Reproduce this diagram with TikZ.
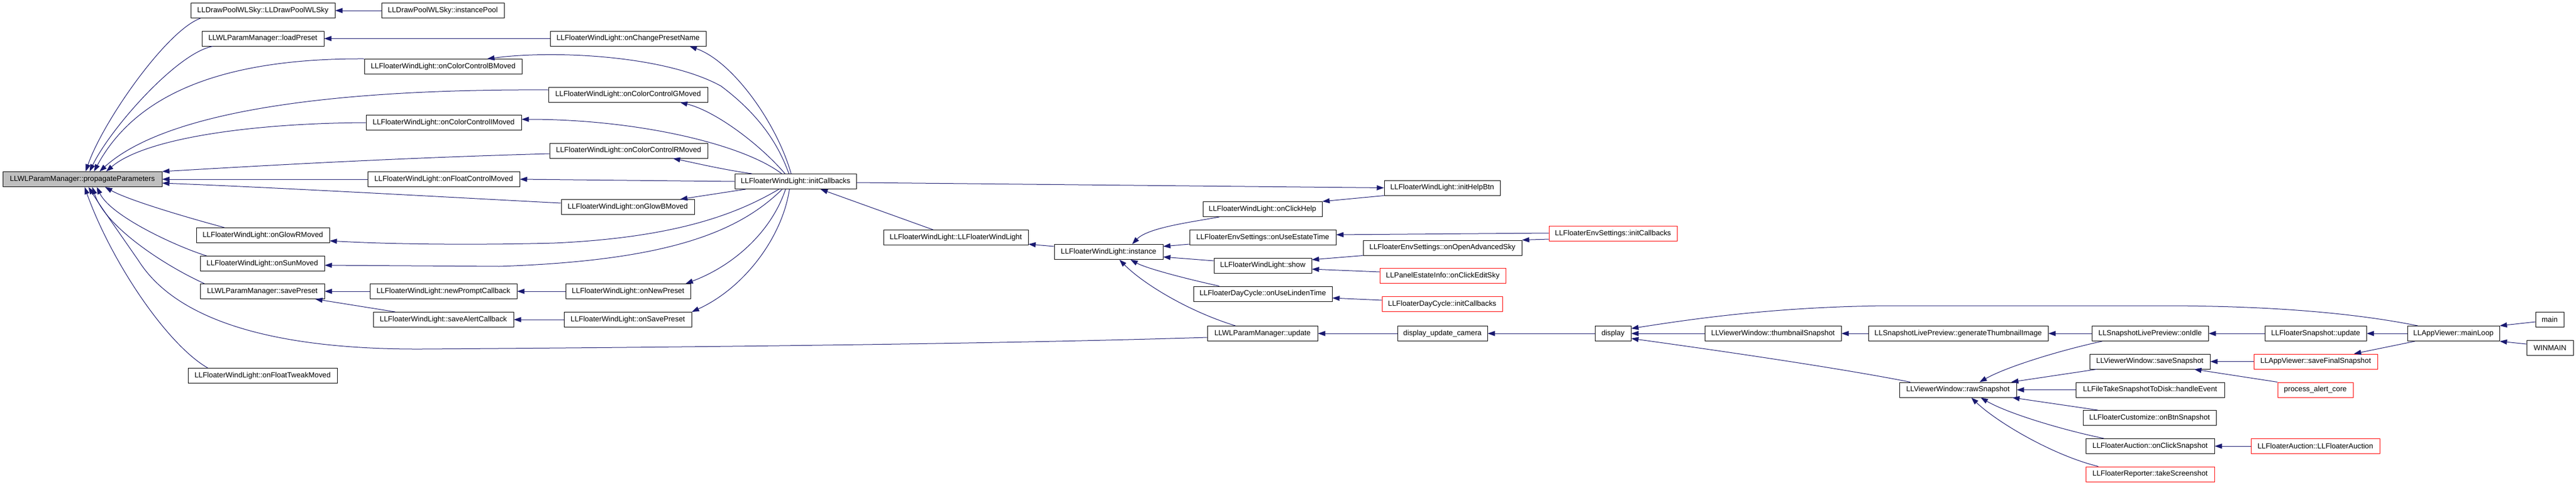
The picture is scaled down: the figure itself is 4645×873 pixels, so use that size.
\documentclass[tikz,border=0pt]{standalone}
\usepackage{fontspec}
\setmainfont{Liberation Sans}
\usetikzlibrary{arrows.meta}
\definecolor{edgeblue}{RGB}{25,25,112}
\definecolor{maingray}{RGB}{191,191,191}
\begin{document}
\begin{tikzpicture}[x=1pt,y=-1pt,
 fnbox/.style={draw=black, line width=1pt, minimum height=27pt, inner sep=0pt, font=\fontsize{13.3}{16}\selectfont},
 redbox/.style={fnbox, draw=red},
 callarrow/.style={draw=edgeblue, line width=1pt, -{Triangle[length=13pt,width=9pt]}}]
\fill[white] (0,0) rectangle (4645,873);
\useasboundingbox (0,0) rectangle (4645,873);
% nodes
\node[fnbox, fill=maingray, minimum width=287pt] (main) at (148.5,323) {LLWLParamManager::propagateParameters};
\node[fnbox, minimum width=260pt] (dpctor) at (474,19) {LLDrawPoolWLSky::LLDrawPoolWLSky};
\node[fnbox, minimum width=220pt] (loadPreset) at (474,69.5) {LLWLParamManager::loadPreset};
\node[fnbox, minimum width=240pt] (glowR) at (474,424) {LLFloaterWindLight::onGlowRMoved};
\node[fnbox, minimum width=224pt] (sun) at (473,475) {LLFloaterWindLight::onSunMoved};
\node[fnbox, minimum width=224pt] (savePreset) at (473,525) {LLWLParamManager::savePreset};
\node[fnbox, minimum width=269pt] (tweak) at (473.5,677) {LLFloaterWindLight::onFloatTweakMoved};
\node[fnbox, minimum width=221pt] (instPool) at (798.5,19) {LLDrawPoolWLSky::instancePool};
\node[fnbox, minimum width=284pt] (bMoved) at (799,120) {LLFloaterWindLight::onColorControlBMoved};
\node[fnbox, minimum width=280pt] (iMoved) at (800,221) {LLFloaterWindLight::onColorControlIMoved};
\node[fnbox, minimum width=274pt] (fcMoved) at (800,323) {LLFloaterWindLight::onFloatControlMoved};
\node[fnbox, minimum width=265pt] (newPrompt) at (799.5,525) {LLFloaterWindLight::newPromptCallback};
\node[fnbox, minimum width=253pt] (saveAlert) at (799.5,576) {LLFloaterWindLight::saveAlertCallback};
\node[fnbox, minimum width=281pt] (changeName) at (1132.5,69.5) {LLFloaterWindLight::onChangePresetName};
\node[fnbox, minimum width=287pt] (gMoved) at (1132.5,170.5) {LLFloaterWindLight::onColorControlGMoved};
\node[fnbox, minimum width=285pt] (rMoved) at (1133.5,271.5) {LLFloaterWindLight::onColorControlRMoved};
\node[fnbox, minimum width=240pt] (glowB) at (1132,373) {LLFloaterWindLight::onGlowBMoved};
\node[fnbox, minimum width=225pt] (newPreset) at (1132.5,525) {LLFloaterWindLight::onNewPreset};
\node[fnbox, minimum width=230pt] (savePresetF) at (1132,576) {LLFloaterWindLight::onSavePreset};
\node[fnbox, minimum width=219pt] (initCb) at (1434.5,327) {LLFloaterWindLight::initCallbacks};
\node[fnbox, minimum width=261pt] (ctor) at (1723.5,428) {LLFloaterWindLight::LLFloaterWindLight};
\node[fnbox, minimum width=196pt] (instance) at (1999,454) {LLFloaterWindLight::instance};
\node[fnbox, minimum width=215pt] (onClickHelp) at (2276.5,377) {LLFloaterWindLight::onClickHelp};
\node[fnbox, minimum width=264pt] (onUseEstateTime) at (2277,428) {LLFloaterEnvSettings::onUseEstateTime};
\node[fnbox, minimum width=176pt] (show) at (2277,478.5) {LLFloaterWindLight::show};
\node[fnbox, minimum width=250pt] (onUseLindenTime) at (2277,529.5) {LLFloaterDayCycle::onUseLindenTime};
\node[fnbox, minimum width=199pt] (wlUpdate) at (2276.5,601) {LLWLParamManager::update};
\node[fnbox, minimum width=209pt] (initHelpBtn) at (2600.5,338.5) {LLFloaterWindLight::initHelpBtn};
\node[fnbox, minimum width=286pt] (openAdv) at (2601,446.5) {LLFloaterEnvSettings::onOpenAdvancedSky};
\node[redbox, minimum width=227pt] (editSky) at (2601.5,497) {LLPanelEstateInfo::onClickEditSky};
\node[redbox, minimum width=217pt] (dcInit) at (2600.5,548) {LLFloaterDayCycle::initCallbacks};
\node[fnbox, minimum width=162pt] (dispCam) at (2601,601) {display\_update\_camera};
\node[redbox, minimum width=231pt] (envInit) at (2908.5,421) {LLFloaterEnvSettings::initCallbacks};
\node[fnbox, minimum width=65pt] (display) at (2908.5,601) {display};
\node[fnbox, minimum width=246pt] (thumb) at (3197,601) {LLViewerWindow::thumbnailSnapshot};
\node[fnbox, minimum width=211pt] (raw) at (3530.5,702.5) {LLViewerWindow::rawSnapshot};
\node[fnbox, minimum width=324pt] (genThumb) at (3531,601) {LLSnapshotLivePreview::generateThumbnailImage};
\node[fnbox, minimum width=210pt] (onIdle) at (3877,601) {LLSnapshotLivePreview::onIdle};
\node[fnbox, minimum width=217pt] (saveSnap) at (3876.5,651.5) {LLViewerWindow::saveSnapshot};
\node[fnbox, minimum width=268pt] (handleEvent) at (3877,702.5) {LLFileTakeSnapshotToDisk::handleEvent};
\node[fnbox, minimum width=240pt] (onBtnSnap) at (3876,753) {LLFloaterCustomize::onBtnSnapshot};
\node[fnbox, minimum width=232pt] (onClickSnap) at (3877,804) {LLFloaterAuction::onClickSnapshot};
\node[redbox, minimum width=232pt] (takeScreen) at (3877,854.5) {LLFloaterReporter::takeScreenshot};
\node[fnbox, minimum width=183pt] (fsUpdate) at (4175.5,601) {LLFloaterSnapshot::update};
\node[redbox, minimum width=223pt] (saveFinal) at (4175.5,651.5) {LLAppViewer::saveFinalSnapshot};
\node[redbox, minimum width=136pt] (alertCore) at (4175,702.5) {process\_alert\_core};
\node[redbox, minimum width=232pt] (auctionCtor) at (4175,804) {LLFloaterAuction::LLFloaterAuction};
\node[fnbox, minimum width=166pt] (mainLoop) at (4424,601) {LLAppViewer::mainLoop};
\node[fnbox, minimum width=51pt] (mainFn) at (4597.5,575.5) {main};
\node[fnbox, minimum width=84pt] (winmain) at (4598,626.5) {WINMAIN};
% edges into main
\draw[callarrow] ([xshift=18pt]dpctor.south west) .. controls (300,55) and (185,220) .. ([xshift=150pt]main.north west);
\draw[callarrow] ([xshift=20pt]loadPreset.south west) .. controls (320,95) and (200,230) .. ([xshift=157pt]main.north west);
\draw[callarrow] (bMoved.north west) .. controls (420,105) and (250,160) .. ([xshift=165pt]main.north west);
\draw[callarrow] ([yshift=8.5pt]gMoved.west) .. controls (600,160) and (300,200) .. ([xshift=175pt]main.north west);
\draw[callarrow] (iMoved.west) .. controls (450,222) and (260,250) .. ([xshift=187pt]main.north west);
\draw[callarrow] ([yshift=-5.5pt]rMoved.west) .. controls (700,285) and (450,300) .. (main.north east);
\draw[callarrow] (fcMoved.west) -- (main.east);
\draw[callarrow] ([yshift=7pt]glowB.west) .. controls (800,355) and (500,338) .. ([yshift=-7pt]main.east);
\draw[callarrow] ([xshift=51pt]glowR.north west) .. controls (330,390) and (230,360) .. ([xshift=185pt]main.south west);
\draw[callarrow] ([xshift=12pt]sun.north west) .. controls (320,445) and (200,390) .. ([xshift=170pt]main.south west);
\draw[callarrow] ([xshift=8pt]savePreset.north west) .. controls (300,480) and (190,410) .. ([xshift=162pt]main.south west);
\draw[callarrow] ([yshift=-7pt]wlUpdate.west) .. controls (1800,620) and (1200,626) .. (760,629) .. controls (500,630) and (320,580) .. (250,470) .. controls (205,405) and (180,370) .. ([xshift=155pt]main.south west);
\draw[callarrow] ([xshift=36pt]tweak.north west) .. controls (300,620) and (200,470) .. ([xshift=148pt]main.south west);
% second column
\draw[callarrow] (instPool.west) -- (dpctor.east);
\draw[callarrow] (changeName.west) -- (loadPreset.east);
\draw[callarrow] (newPrompt.west) -- (savePreset.east);
\draw[callarrow] ([xshift=40pt]saveAlert.north west) -- ([xshift=-17pt]savePreset.south east);
\draw[callarrow] (newPreset.west) -- (newPrompt.east);
\draw[callarrow] (savePresetF.west) -- (saveAlert.east);
% from initCallbacks
\draw[callarrow] ([xshift=102pt]initCb.north west) .. controls (1400,220) and (1320,110) .. ([xshift=-30pt]changeName.south east);
\draw[callarrow] ([xshift=98pt]initCb.north west) .. controls (1400,250) and (1360,200) .. (1300,155) .. controls (1200,100) and (1000,90) .. ([xshift=-63pt]bMoved.north east);
\draw[callarrow] ([xshift=91pt]initCb.north west) .. controls (1370,260) and (1290,200) .. ([xshift=-50pt]gMoved.south east);
\draw[callarrow] ([xshift=85pt]initCb.north west) .. controls (1340,260) and (1150,215) .. ([yshift=6pt]iMoved.east);
\draw[callarrow] ([xshift=31pt]initCb.north west) .. controls (1300,305) and (1250,293) .. ([xshift=-63pt]rMoved.south east);
\draw[callarrow] (initCb.west) -- (fcMoved.east);
\draw[callarrow] ([xshift=20pt]initCb.south west) -- ([xshift=-26pt]glowB.north east);
\draw[callarrow] ([xshift=80pt]initCb.south west) .. controls (1330,385) and (1220,428) .. (1000,438) .. controls (850,442) and (700,440) .. ([yshift=-10pt]glowR.east);
\draw[callarrow] ([xshift=86pt]initCb.south west) .. controls (1330,420) and (1200,470) .. (900,480) -- ([yshift=-3pt]sun.east);
\draw[callarrow] ([xshift=92pt]initCb.south west) .. controls (1390,420) and (1320,480) .. ([xshift=-9pt]newPreset.north east);
\draw[callarrow] ([xshift=99pt]initCb.south west) .. controls (1410,430) and (1340,520) .. (savePresetF.north east);
\draw[callarrow] ([yshift=-2pt]initCb.east) -- (initHelpBtn.west);
\draw[callarrow] ([xshift=90pt]ctor.north west) -- ([xshift=155pt]initCb.south west);
\draw[callarrow] ([yshift=10pt]instance.west) -- ([yshift=-12pt]ctor.east);
% into instance
\draw[callarrow] ([xshift=30pt]onClickHelp.south west) .. controls (2150,400) and (2070,410) .. ([xshift=141pt]instance.north west);
\draw[callarrow] ([yshift=-12pt]onUseEstateTime.west) -- ([yshift=10pt]instance.east);
\draw[callarrow] ([yshift=8.5pt]show.west) -- ([yshift=-9pt]instance.east);
\draw[callarrow] ([xshift=47pt]onUseLindenTime.north west) .. controls (2150,505) and (2070,485) .. ([xshift=138pt]instance.south west);
\draw[callarrow] ([xshift=51pt]wlUpdate.north west) .. controls (2140,560) and (2060,510) .. ([xshift=118pt]instance.south west);
\draw[callarrow] (initHelpBtn.south west) -- (onClickHelp.north east);
\draw[callarrow] ([yshift=1pt]envInit.west) -- ([yshift=5pt]onUseEstateTime.east);
\draw[callarrow] ([yshift=-10pt]envInit.west) -- (openAdv.north east);
\draw[callarrow] (openAdv.south west) -- ([yshift=10.5pt]show.east);
\draw[callarrow] ([yshift=7pt]editSky.west) -- ([yshift=-6.5pt]show.east);
\draw[callarrow] ([yshift=7pt]dcInit.west) -- ([yshift=-7.5pt]onUseLindenTime.east);
% display chain
\draw[callarrow] (dispCam.west) -- (wlUpdate.east);
\draw[callarrow] (display.west) -- (dispCam.east);
\draw[callarrow] ([xshift=19pt]mainLoop.north west) .. controls (4250,565) and (4100,551) .. (3900,551) -- (3400,551) .. controls (3200,553) and (3050,575) .. ([yshift=9pt]display.east);
\draw[callarrow] (thumb.west) -- (display.east);
\draw[callarrow] ([xshift=20pt]raw.north west) .. controls (3300,660) and (3050,625) .. ([yshift=-9pt]display.east);
\draw[callarrow] (genThumb.west) -- (thumb.east);
\draw[callarrow] (onIdle.west) -- (genThumb.east);
\draw[callarrow] (fsUpdate.west) -- (onIdle.east);
\draw[callarrow] (mainLoop.west) -- (fsUpdate.east);
\draw[callarrow] ([xshift=19pt]onIdle.south west) .. controls (3720,630) and (3620,660) .. ([xshift=145pt]raw.north west);
\draw[callarrow] ([xshift=13pt]saveSnap.south west) -- ([xshift=-10pt]raw.north east);
\draw[callarrow] (handleEvent.west) -- (raw.east);
\draw[callarrow] ([xshift=27pt]onBtnSnap.north west) -- ([xshift=-8pt]raw.south east);
\draw[callarrow] ([xshift=33pt]onClickSnap.north west) .. controls (3720,775) and (3620,745) .. ([xshift=147pt]raw.south west);
\draw[callarrow] ([xshift=23pt]takeScreen.north west) .. controls (3700,820) and (3600,760) .. ([xshift=130pt]raw.south west);
\draw[callarrow] ([yshift=-4.5pt]mainFn.west) -- (mainLoop.north east);
\draw[callarrow] ([yshift=6.5pt]winmain.west) -- (mainLoop.south east);
\draw[callarrow] ([xshift=14pt]mainLoop.south west) -- ([xshift=181pt]saveFinal.north west);
\draw[callarrow] (saveFinal.west) -- (saveSnap.east);
\draw[callarrow] (alertCore.north west) -- ([xshift=189pt]saveSnap.south west);
\draw[callarrow] (auctionCtor.west) -- (onClickSnap.east);
\end{tikzpicture}
\end{document}
